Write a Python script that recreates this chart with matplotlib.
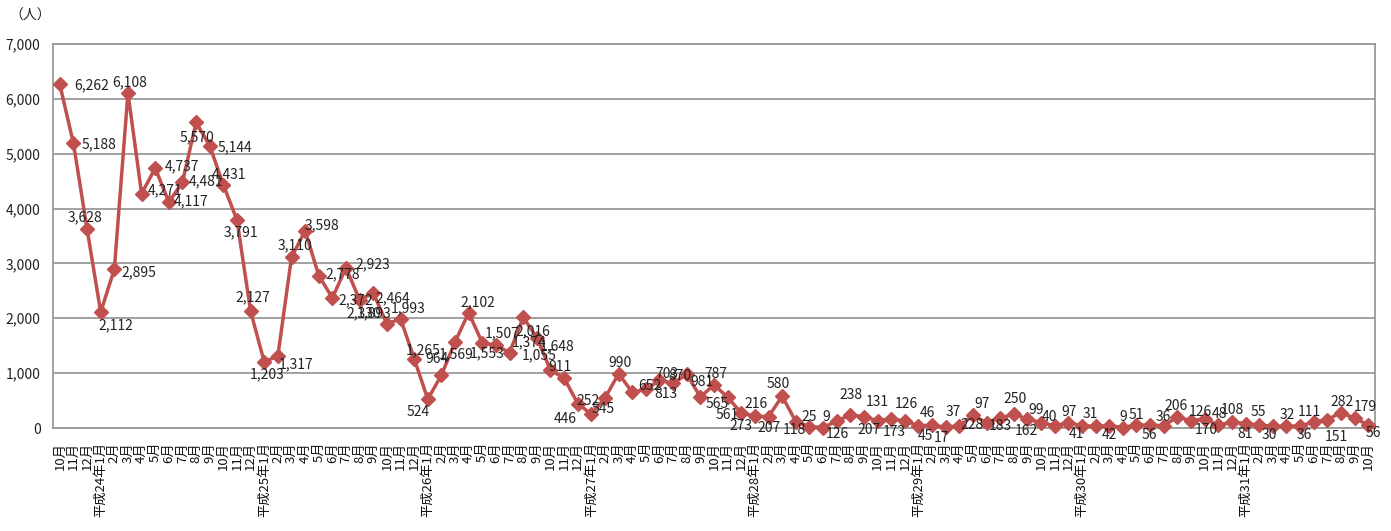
import matplotlib
matplotlib.use("Agg")
import matplotlib.pyplot as plt

plt.rcParams['font.family'] = ['Noto Sans CJK JP', 'DejaVu Sans']

# ---- data ----
start_months = ["10月", "11月", "12月"]
years = ["平成24年", "平成25年", "平成26年", "平成27年", "平成28年", "平成29年", "平成30年", "平成31年"]
months = ["1月", "2月", "3月", "4月", "5月", "6月", "7月", "8月", "9月", "10月", "11月", "12月"]
last_year_months = 10

values = [
    6262, 5188, 3628,
    2112, 2895, 6108, 4271, 4737, 4117, 4481, 5570, 5144, 4431, 3791, 2127,
    1203, 1317, 3110, 3598, 2778, 2372, 2923, 2330, 2464, 1893, 1993, 1265,
    524, 964, 1569, 2102, 1553, 1507, 1374, 2016, 1648, 1055, 911, 446,
    252, 545, 990, 652, 703, 870, 813, 981, 565, 787, 561, 273,
    216, 207, 580, 118, 25, 9, 126, 238, 207, 131, 173, 126,
    45, 46, 17, 37, 228, 97, 183, 250, 162, 99, 40, 97,
    41, 31, 42, 9, 51, 56, 36, 206, 126, 170, 48, 108,
    81, 55, 30, 32, 36, 111, 151, 282, 179, 56,
]

tick_labels = list(start_months)
for yi, y in enumerate(years):
    n = last_year_months if yi == len(years) - 1 else 12
    for mi in range(n):
        tick_labels.append(y + months[mi] if mi == 0 else months[mi])

# label offsets (pixels: dx right, dy down) for placement of data labels
label_offsets = [
    (32, 1), (26, 1), (-2, -12), (15, 13), (25, 3), (2, -11), (23, -3), (27, -2), (22, -1), (24, -1),
    (1, 15), (25, 1), (6, -11), (4, 12), (2, -14), (3, 12), (18, 9), (3, -12), (17, -5), (24, -1),
    (23, 2), (27, -3), (4, 13), (19, 5), (-13, -11), (8, -10), (9, -8), (-10, 13), (-4, -16), (1, 12),
    (9, -10), (5, 10), (6, -12), (19, -10), (10, 14), (20, 9), (-11, -15), (-4, -11), (-12, 15), (-3, -13),
    (-2, 11), (1, -11), (18, -6), (21, -15), (20, -4), (-7, 11), (15, 8), (17, 7), (2, -11), (0, 18),
    (0, 13), (1, -12), (0, 11), (-4, -12), (-1, 8), (0, -10), (3, -11), (1, 13), (1, -20), (5, 13),
    (0, -19), (3, 13), (2, -17), (7, 10), (-5, -12), (-4, 11), (-6, -14), (-1, 10), (-5, -19), (0, 8),
    (1, -15), (-1, 12), (-5, -13), (-5, -9), (1, -11), (-6, 8), (-5, -12), (0, 9), (0, -11), (0, -10),
    (-1, 10), (0, -9), (-1, -11), (9, -9), (2, 11), (1, -11), (0, -12), (0, 10), (-1, -13), (-3, 9),
    (1, -11), (4, 9), (-4, -10), (9, 17), (1, -11), (11, -11), (5, 8),
]

# ---- figure ----
W, H = 1391, 531
fig = plt.figure(figsize=(W / 100, H / 100), dpi=100)
ax = fig.add_axes([53 / W, 1 - 428 / H, (1375 - 53) / W, (428 - 44) / H])

x = list(range(len(values)))
red = "#C0504D"
ax.plot(x, values, color=red, lw=2.5, marker="D", markersize=7.5,
        markerfacecolor=red, markeredgecolor=red, zorder=3, clip_on=False)

for i, v in enumerate(values):
    dx, dy = label_offsets[i]
    ax.annotate(f"{v:,}", (i, v), xytext=(dx, -dy), textcoords="offset pixels",
                ha="center", va="center", fontsize=10, color="#222222", zorder=4)

ax.set_xlim(-0.5, len(values) - 0.5)
ax.set_ylim(0, 7000)
ax.set_yticks(range(0, 7001, 1000))
ax.set_yticklabels([f"{t:,}" for t in range(0, 7001, 1000)], fontsize=10, color="#222222")
ax.yaxis.grid(True, color="#9a9a9a", lw=1.3)
ax.set_axisbelow(True)
ax.set_xticks(x)
ax.set_xticklabels(tick_labels, rotation=90, fontsize=9.5, color="#111111")
ax.tick_params(axis="x", length=0, pad=10)
ax.tick_params(axis="y", length=0, pad=9)
for s in ax.spines.values():
    s.set_color("#9a9a9a")
    s.set_linewidth(1.3)

fig.text(30 / W, 1 - 16 / H, "（人）", ha="center", va="center", fontsize=10, color="#222222")

fig.savefig("out.png", dpi=100)
